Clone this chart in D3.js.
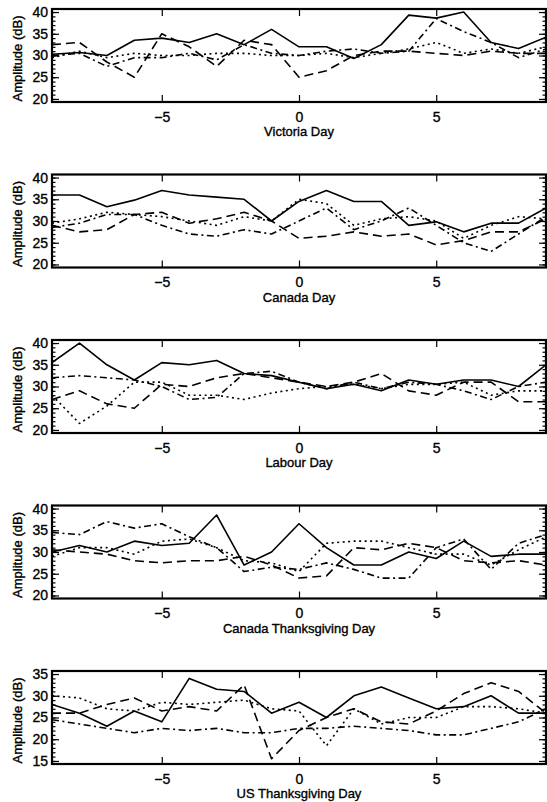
<!DOCTYPE html>
<html>
<head>
<meta charset="utf-8">
<script src="https://cdn.jsdelivr.net/npm/d3@7"></script>
<style>
  html, body { margin: 0; padding: 0; background: #fff; }
  svg { display: block; }
  text { font-family: "Liberation Sans", Arial, sans-serif; fill: #000; stroke: #000; stroke-width: 0.35px; }
</style>
</head>
<body>
<script>
// Days relative to each holiday
const days = [-9, -8, -7, -6, -5, -4, -3, -2, -1, 0, 1, 2, 3, 4, 5, 6, 7, 8, 9];

const holidays = ["Victoria Day", "Canada Day", "Labour Day", "Canada Thanksgiving Day", "US Thanksgiving Day"];

// One row per holiday, amplitude in dB
const solidSeries = [
  [30.3, 30.7, 30, 33.5, 34, 33, 35, 32.5, 36, 32, 32, 29.3, 32.5, 39.3, 38.6, 40, 33, 31.6, 34.2],
  [36, 36, 33.3, 34.8, 37, 36, 35.5, 35, 30, 34.5, 37, 34.5, 34.5, 29, 29.8, 27.5, 29.5, 29.5, 33],
  [35.5, 40, 35, 31.5, 35.5, 35, 36, 33, 32.5, 31, 29.5, 30.5, 29, 31.5, 30.5, 31.5, 31.5, 30, 35],
  [30, 31.5, 30, 32.5, 31.5, 32, 38.5, 27, 30, 36.5, 31, 27, 27, 30, 28.5, 32.5, 29, 29.5, 29.5],
  [28, 26, 23, 26.5, 24, 34, 31.5, 31, 26, 28.5, 25, 30, 32, 29.5, 27, 27.5, 30, 26, 26]
];
const dashedSeries = [
  [32.5, 33, 28.5, 25, 35, 32, 27.5, 33.5, 32.5, 25, 26.5, 30, 31, 31, 30.5, 30, 31, 30.5, 30.5],
  [29, 27.5, 28, 31.5, 32, 29.5, 30.5, 32, 30, 26, 26.5, 27.5, 26.5, 27, 24.5, 25.5, 27.5, 27.5, 30.5],
  [27, 29, 26, 25, 30.5, 30, 32, 33, 32, 31, 30, 31, 33, 29, 28, 31, 31, 26.5, 26.5],
  [30.5, 30, 29.5, 28, 27.5, 28, 28, 29, 27, 24, 24.5, 31, 30.5, 32, 31, 28, 27.5, 28, 27],
  [26, 26, 28, 29.5, 26.5, 27.5, 26.5, 32.5, 15.5, 22, 25, 27, 24, 23.5, 26.5, 30.5, 33, 31, 26]
];
const dottedSeries = [
  [29.5, 31, 29.5, 30.5, 30, 30, 30.5, 30.5, 30, 30, 30.5, 29.5, 30.5, 31.5, 33, 30.5, 31.5, 30.5, 32],
  [29.5, 30.5, 32, 31.5, 31, 30, 29, 31, 30, 35, 34, 29, 30.5, 31, 30, 26, 29, 31, 30.5],
  [28, 21.5, 25.5, 31, 31, 28, 28, 27, 28.5, 29.5, 30, 30.5, 29.5, 30.5, 30.5, 31, 28, 29, 29],
  [29, 31, 31, 29.5, 32.5, 33, 31, 28, 27.5, 25.5, 32, 32.5, 32.5, 31, 29.5, 29.5, 27, 30.5, 33.5],
  [30, 29.5, 27, 26.5, 28.5, 28, 28.5, 29, 27, 26.5, 18.5, 27, 23.5, 25, 25, 27.5, 27.5, 27, 26]
];
const dashDotSeries = [
  [30, 30.5, 27.5, 29.5, 29.5, 30.5, 29, 32.5, 30.5, 30, 31, 31.5, 30.5, 31, 38.5, 35.5, 33, 29.5, 31.5],
  [28.5, 29.5, 31.5, 31.5, 29, 27, 26.5, 28, 27, 30, 33, 28, 30, 33, 29, 25, 23, 27, 31],
  [32, 32.5, 32, 31.5, 30, 27, 27.5, 33, 33.5, 31, 29.5, 31, 29.5, 31, 30.5, 29, 27, 30, 31],
  [34.5, 34, 37, 35.5, 36.5, 33.5, 31, 25.5, 26.5, 26, 27.5, 26, 24, 24, 31, 33, 26, 32, 34],
  [24.5, 23.5, 22.5, 21.5, 22.5, 22, 22.5, 21.5, 21.5, 22.5, 22.5, 23, 22.5, 22, 21, 21, 22.5, 24, 27]
];

// Y ranges and tick labels per panel
const yDomains = [[19.3, 40.7], [19.3, 40.7], [19.3, 40.7], [19.3, 40.7], [14.3, 35.7]];
const yTickValues = [
  [20, 25, 30, 35, 40], [20, 25, 30, 35, 40], [20, 25, 30, 35, 40],
  [20, 25, 30, 35, 40], [15, 20, 25, 30, 35]
];
const xTickValues = [-5, 0, 5];

const width = 547, height = 802;
const plotLeft = 52, plotRight = 546;
const panelTop0 = 9, panelStep = 165.5, panelHeight = 93;

const lineStyles = [
  { series: solidSeries, dash: null },
  { series: dashedSeries, dash: "9,5" },
  { series: dottedSeries, dash: "2,3.5" },
  { series: dashDotSeries, dash: "7,3.5,2,3.5" }
];

const svg = d3.select("body").append("svg")
  .attr("width", width).attr("height", height);

const x = d3.scaleLinear().domain([-9, 9]).range([plotLeft, plotRight]);

holidays.forEach((name, i) => {
  const top = panelTop0 + i * panelStep;
  const bottom = top + panelHeight;
  const y = d3.scaleLinear().domain(yDomains[i]).range([bottom, top]);
  const g = svg.append("g");

  const clipId = "clip" + i;
  svg.append("clipPath").attr("id", clipId)
    .append("rect").attr("x", plotLeft).attr("y", top)
    .attr("width", plotRight - plotLeft).attr("height", panelHeight);

  const line = d3.line().x((d, k) => x(days[k])).y(d => y(d));
  const lines = g.append("g").attr("clip-path", `url(#${clipId})`);
  lineStyles.forEach(s => {
    lines.append("path")
      .attr("d", line(s.series[i]))
      .attr("fill", "none")
      .attr("stroke", "#000")
      .attr("stroke-width", 1.6)
      .attr("stroke-linejoin", "round")
      .attr("stroke-dasharray", s.dash);
  });

  const [y0, y1] = yDomains[i];
  const minorY = d3.range(Math.ceil(y0), Math.floor(y1) + 1);

  // Left axis: labels, major and minor inward ticks
  const left = g.append("g").attr("transform", `translate(${plotLeft},0)`);
  left.call(d3.axisLeft(y).tickValues(yTickValues[i]).tickSize(-7).tickPadding(4).tickFormat(d3.format("d")));
  left.append("g").call(d3.axisLeft(y).tickValues(minorY).tickSize(-3.5).tickFormat(""));
  // Right axis mirrors the ticks
  const right = g.append("g").attr("transform", `translate(${plotRight},0)`);
  right.call(d3.axisRight(y).tickValues(yTickValues[i]).tickSize(-7).tickFormat(""));
  right.append("g").call(d3.axisRight(y).tickValues(minorY).tickSize(-3.5).tickFormat(""));

  // Bottom and top axes
  const bottomAxis = g.append("g").attr("transform", `translate(0,${bottom})`);
  bottomAxis.call(d3.axisBottom(x).tickValues(xTickValues).tickSize(-7).tickPadding(10));
  const topAxis = g.append("g").attr("transform", `translate(0,${top})`);
  topAxis.call(d3.axisTop(x).tickValues(xTickValues).tickSize(-7).tickFormat(""));

  g.selectAll(".domain").remove();
  g.selectAll(".tick line").attr("stroke", "#000").attr("stroke-width", 1.2);
  g.selectAll(".tick text").style("font-size", "14px").style("font-family", "'Liberation Sans', Arial, sans-serif");

  // Frame
  g.append("rect")
    .attr("x", plotLeft).attr("y", top)
    .attr("width", plotRight - plotLeft).attr("height", panelHeight)
    .attr("fill", "none").attr("stroke", "#000").attr("stroke-width", 2.2);

  // Axis titles
  g.append("text")
    .attr("x", x(0)).attr("y", bottom + 34)
    .attr("text-anchor", "middle")
    .style("font-size", "13px")
    .text(name);

  g.append("text")
    .attr("transform", `translate(22,${top + panelHeight / 2 + 3}) rotate(-90)`)
    .attr("text-anchor", "middle")
    .style("font-size", "13px")
    .text("Amplitude (dB)");
});
</script>
</body>
</html>
